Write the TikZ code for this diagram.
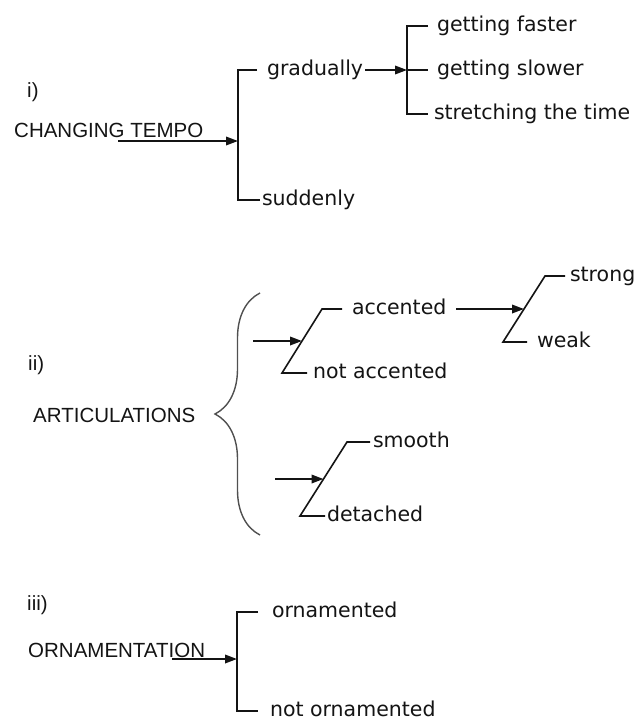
\documentclass[tikz,border=0pt]{standalone}
\usepackage{fontspec}
\usepackage{xcolor}
\usepackage{tikz}
\usetikzlibrary{arrows.meta,calc,decorations.pathreplacing}
\newfontfamily\capsfont{Liberation Sans}
\newfontfamily\leaffont{DejaVu Sans}
\definecolor{ink}{HTML}{141414}
\definecolor{bracegray}{HTML}{505050}
\tikzset{
  heading/.style={anchor=base west, inner sep=0pt, text=ink, font=\capsfont\fontsize{20.5}{24}\selectfont},
  leaf/.style={anchor=west, inner xsep=0pt, inner ysep=0pt, outer xsep=#1, text height=11pt, text depth=0pt, text=ink, font=\leaffont\fontsize{20.5}{24}\selectfont},
  leaf/.default=8pt,
  bar/.style={draw=ink, line width=2.1pt},
  slant/.style={draw=ink, line width=1.6pt},
  arrow/.style={-{Triangle[length=12pt,width=8.5pt]}, line width=1.9pt, draw=ink},
  curly/.style={draw=bracegray, line width=1.4pt, decorate, decoration={brace, amplitude=45pt}}
}

\begin{document}
\begin{tikzpicture}[x=1pt, y=-1pt]
  \path[fill=white] (0,0) rectangle (644,725);

  \node[heading] (one) at (27,97) {i)};
  \node[heading] (tempo) at (14,137) {CHANGING TEMPO};
  \coordinate (tempoarrow) at (118,141);
  \coordinate (b1top) at (238,70);
  \coordinate (b1mid) at (238,141);
  \coordinate (b1bot) at (238,200);
  \node[leaf=10pt] (gradually) at (257,70) {gradually};
  \node[leaf=2pt] (suddenly) at (260,200) {suddenly};
  \coordinate (b2top) at (407,26);
  \coordinate (b2mid) at (407,70);
  \coordinate (b2bot) at (407,114);
  \node[leaf=9pt] (faster) at (428,26) {getting faster};
  \node[leaf=9pt] (slower) at (428,70) {getting slower};
  \node[leaf=6pt] (stretching) at (428,114) {stretching the time};

  \draw[arrow] (tempoarrow) -- (b1mid);
  \draw[bar] (gradually.west) -- (b1top) -- (b1bot) -- (suddenly.west);
  \draw[arrow] ([xshift=-8pt]gradually.east) -- (b2mid);
  \draw[bar] (faster.west) -- (b2top) -- (b2bot) -- (stretching.west);
  \draw[bar] (b2mid) -- (slower.west);

  \node[heading] (two) at (28,370) {ii)};
  \node[heading] (artic) at (33,422) {ARTICULATIONS};
  \coordinate (brtop) at (260,293);
  \coordinate (brbot) at (260,535);
  \coordinate (s1top) at (322,309);
  \coordinate (s1bot) at (282,373);
  \coordinate (s2top) at (545,276);
  \coordinate (s2bot) at (503,342);
  \coordinate (s3top) at (347,442);
  \coordinate (s3bot) at (300,516);
  \coordinate (accarrow) at (253,341);
  \coordinate (smootharrow) at (275,479);
  \node[leaf=10pt] (accented) at (342,309) {accented};
  \node[leaf=6pt] (notaccented) at (307,373) {not accented};
  \node[leaf=5pt] (strong) at (565,276) {strong};
  \node[leaf=10pt] (weak) at (527,342) {weak};
  \node[leaf=3pt] (smooth) at (370,442) {smooth};
  \node[leaf=2pt] (detached) at (325,516) {detached};

  \draw[curly] (brbot) -- (brtop);
  \draw[arrow] (accarrow) -- ($(s1top)!0.5!(s1bot)$);
  \draw[slant] (accented.west) -- (s1top) -- (s1bot) -- (notaccented.west);
  \draw[arrow] (accented.east) -- ($(s2top)!0.5!(s2bot)$);
  \draw[slant] (strong.west) -- (s2top) -- (s2bot) -- (weak.west);
  \draw[arrow] (smootharrow) -- ($(s3top)!0.5!(s3bot)$);
  \draw[slant] (smooth.west) -- (s3top) -- (s3bot) -- (detached.west);

  \node[heading] (three) at (27,610) {iii)};
  \node[heading] (ornam) at (28,657) {ORNAMENTATION};
  \coordinate (ornarrow) at (172,659);
  \coordinate (b3top) at (237,612);
  \coordinate (b3mid) at (237,659);
  \coordinate (b3bot) at (237,711);
  \node[leaf=14pt] (ornamented) at (258,612) {ornamented};
  \node[leaf=12pt] (notornamented) at (258,711) {not ornamented};

  \draw[arrow] (ornarrow) -- (b3mid);
  \draw[bar] (ornamented.west) -- (b3top) -- (b3bot) -- (notornamented.west);
\end{tikzpicture}
\end{document}
